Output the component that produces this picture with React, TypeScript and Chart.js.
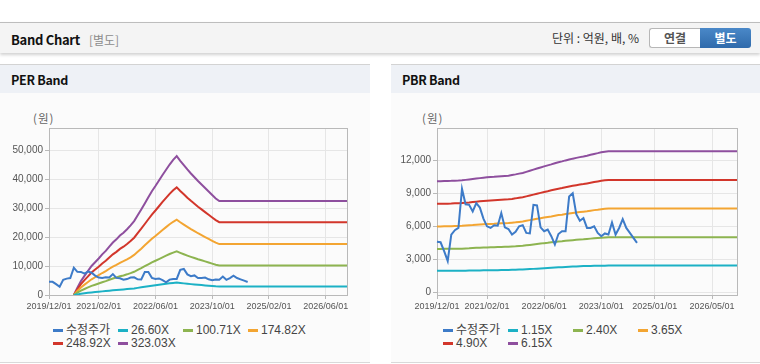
import React, { useEffect, useRef } from 'react';
import { Chart, registerables } from 'chart.js';

Chart.register(...registerables);

// ---------- categories (monthly, 2019/12 .. 2026/12) ----------
const MONTHS: string[] = [];
for (let i = 0; i < 85; i++) {
  const t = 2019 * 12 + 11 + i;
  const y = Math.floor(t / 12);
  const m = (t % 12) + 1;
  MONTHS.push(`${y}/${String(m).padStart(2, '0')}/01`);
}

const PER_TICK_LABELS = ['2019/12/01', '2021/02/01', '2022/06/01', '2023/10/01', '2025/02/01', '2026/06/01'];
const PBR_TICK_LABELS = ['2019/12/01', '2021/02/01', '2022/06/01', '2023/10/01', '2025/01/01', '2026/05/01'];

// ---------- adjusted price (수정주가) ----------
const PRICE = [
  4600, 4550, 3750, 2850, 5250, 5650, 5850, 9400, 8000, 7950,
  7350, 8100, 7700, 6700, 6000, 5850, 6100, 6050, 7200, 5900,
  5750, 5250, 5500, 6000, 6100, 5400, 5350, 7950, 7900, 5900,
  5550, 5700, 5100, 4350, 5300, 5550, 5550, 8700, 9000, 7100,
  6500, 6750, 5850, 5850, 6000, 5400, 5100, 5350, 5250, 6350,
  5250, 5850, 6650, 5850, 5400, 4950, 4500,
];

// ---------- PER bands ----------
const PER_LABELS = ['26.60X', '100.71X', '174.82X', '248.92X', '323.03X'];

const PER_26 = [
  null, null, null, null, null, null, null,
  0, 220, 430, 590, 740, 900, 1010, 1130, 1250, 1360, 1490, 1620, 1720, 1830, 1920, 2030, 2150, 2280, 2460, 2640, 2830, 3020, 3200, 3370, 3540, 3710, 3870, 4030, 4170, 4290,
  4140, 4010, 3880, 3750, 3630, 3520, 3410, 3300, 3200, 3090, 2980,
  2900, 2900, 2900, 2900, 2900, 2900, 2900, 2900, 2900, 2900,
  2900, 2900, 2900, 2900, 2900, 2900, 2900, 2900, 2900, 2900,
  2900, 2900, 2900, 2900, 2900, 2900, 2900, 2900, 2900, 2900,
  2900, 2900, 2900, 2900, 2900, 2900, 2900,
];
const PER_100 = [
  null, null, null, null, null, null, null,
  0, 790, 1510, 2070, 2610, 3140, 3550, 3960, 4400, 4770, 5240, 5680, 6030, 6440, 6750, 7130, 7540, 8010, 8640, 9260, 9920, 10580, 11240, 11810, 12400, 13000, 13560, 14130, 14630, 15040,
  14540, 14070, 13600, 13160, 12750, 12340, 11960, 11590, 11210, 10830, 10460,
  10170, 10170, 10170, 10170, 10170, 10170, 10170, 10170, 10170, 10170,
  10170, 10170, 10170, 10170, 10170, 10170, 10170, 10170, 10170, 10170,
  10170, 10170, 10170, 10170, 10170, 10170, 10170, 10170, 10170, 10170,
  10170, 10170, 10170, 10170, 10170, 10170, 10170,
];
const PER_174 = [
  null, null, null, null, null, null, null,
  0, 1360, 2600, 3580, 4500, 5420, 6120, 6830, 7590, 8240, 9050, 9810, 10410, 11110, 11650, 12300, 13010, 13820, 14910, 15990, 17130, 18270, 19400, 20380, 21410, 22440, 23410, 24390, 25260, 25960,
  25090, 24280, 23470, 22710, 22010, 21300, 20650, 20000, 19350, 18700, 18050,
  17560, 17560, 17560, 17560, 17560, 17560, 17560, 17560, 17560, 17560,
  17560, 17560, 17560, 17560, 17560, 17560, 17560, 17560, 17560, 17560,
  17560, 17560, 17560, 17560, 17560, 17560, 17560, 17560, 17560, 17560,
  17560, 17560, 17560, 17560, 17560, 17560, 17560,
];
const PER_248 = [
  null, null, null, null, null, null, null,
  0, 1940, 3720, 5120, 6430, 7750, 8760, 9770, 10850, 11780, 12940, 14030, 14880, 15890, 16660, 17590, 18600, 19760, 21310, 22860, 24490, 26120, 27750, 29140, 30610, 32090, 33480, 34880, 36120, 37120,
  35880, 34720, 33560, 32470, 31470, 30460, 29530, 28600, 27670, 26740, 25810,
  25110, 25110, 25110, 25110, 25110, 25110, 25110, 25110, 25110, 25110,
  25110, 25110, 25110, 25110, 25110, 25110, 25110, 25110, 25110, 25110,
  25110, 25110, 25110, 25110, 25110, 25110, 25110, 25110, 25110, 25110,
  25110, 25110, 25110, 25110, 25110, 25110, 25110,
];
const PER_323 = [
  null, null, null, null, null, null, null,
  0, 2500, 4800, 6600, 8300, 10000, 11300, 12600, 14000, 15200, 16700, 18100, 19200, 20500, 21500, 22700, 24000, 25500, 27500, 29500, 31600, 33700, 35800, 37600, 39500, 41400, 43200, 45000, 46600, 47900,
  46300, 44800, 43300, 41900, 40600, 39300, 38100, 36900, 35700, 34500, 33300,
  32400, 32400, 32400, 32400, 32400, 32400, 32400, 32400, 32400, 32400,
  32400, 32400, 32400, 32400, 32400, 32400, 32400, 32400, 32400, 32400,
  32400, 32400, 32400, 32400, 32400, 32400, 32400, 32400, 32400, 32400,
  32400, 32400, 32400, 32400, 32400, 32400, 32400,
];

// ---------- PBR bands ----------
const PBR_LABELS = ['1.15X', '2.40X', '3.65X', '4.90X', '6.15X'];

const PBR_115 = [
  1950, 1950, 1955, 1955, 1960, 1960, 1965, 1965, 1970, 1975,
  1980, 1985, 1990, 1995, 2000, 2005, 2010, 2015, 2020, 2025,
  2030, 2040, 2050, 2065, 2080, 2095, 2110, 2130, 2150, 2170,
  2190, 2210, 2230, 2250, 2270, 2285, 2300, 2320, 2335, 2350,
  2365, 2380, 2390, 2400, 2410, 2415, 2420, 2425,
  2430, 2430, 2430, 2430, 2430, 2430, 2430, 2430, 2430, 2430,
  2430, 2430, 2430, 2430, 2430, 2430, 2430, 2430, 2430, 2430,
  2430, 2430, 2430, 2430, 2430, 2430, 2430, 2430, 2430, 2430,
  2430, 2430, 2430, 2430, 2430, 2430, 2430,
];
const PBR_240 = [
  3940, 3940, 3950, 3950, 3950, 3960, 3960, 3970, 3990, 4000,
  4020, 4040, 4050, 4070, 4080, 4090, 4100, 4110, 4120, 4130,
  4140, 4160, 4180, 4210, 4230, 4270, 4310, 4350, 4390, 4430,
  4470, 4500, 4540, 4580, 4610, 4640, 4680, 4710, 4740, 4770,
  4800, 4820, 4850, 4880, 4910, 4940, 4970, 4990,
  5000, 5000, 5000, 5000, 5000, 5000, 5000, 5000, 5000, 5000,
  5000, 5000, 5000, 5000, 5000, 5000, 5000, 5000, 5000, 5000,
  5000, 5000, 5000, 5000, 5000, 5000, 5000, 5000, 5000, 5000,
  5000, 5000, 5000, 5000, 5000, 5000, 5000,
];
const PBR_365 = [
  5990, 5990, 6000, 6010, 6010, 6020, 6030, 6040, 6070, 6090,
  6110, 6140, 6160, 6180, 6200, 6220, 6230, 6250, 6270, 6280,
  6290, 6330, 6360, 6400, 6440, 6500, 6560, 6620, 6680, 6740,
  6800, 6850, 6900, 6960, 7020, 7060, 7120, 7160, 7210, 7250,
  7290, 7330, 7370, 7420, 7470, 7510, 7560, 7590,
  7610, 7610, 7610, 7610, 7610, 7610, 7610, 7610, 7610, 7610,
  7610, 7610, 7610, 7610, 7610, 7610, 7610, 7610, 7610, 7610,
  7610, 7610, 7610, 7610, 7610, 7610, 7610, 7610, 7610, 7610,
  7610, 7610, 7610, 7610, 7610, 7610, 7610,
];
const PBR_490 = [
  8040, 8050, 8060, 8060, 8070, 8090, 8100, 8110, 8140, 8170,
  8210, 8240, 8270, 8300, 8330, 8350, 8370, 8390, 8410, 8430,
  8450, 8490, 8540, 8600, 8640, 8720, 8800, 8880, 8960, 9040,
  9120, 9190, 9270, 9350, 9420, 9480, 9550, 9620, 9680, 9740,
  9790, 9840, 9900, 9960, 10020, 10080, 10140, 10180,
  10210, 10210, 10210, 10210, 10210, 10210, 10210, 10210, 10210, 10210,
  10210, 10210, 10210, 10210, 10210, 10210, 10210, 10210, 10210, 10210,
  10210, 10210, 10210, 10210, 10210, 10210, 10210, 10210, 10210, 10210,
  10210, 10210, 10210, 10210, 10210, 10210, 10210,
];
const PBR_615 = [
  10090, 10100, 10110, 10120, 10130, 10150, 10160, 10180, 10220, 10260,
  10300, 10340, 10380, 10420, 10450, 10480, 10500, 10530, 10560, 10580,
  10600, 10660, 10720, 10790, 10850, 10950, 11050, 11150, 11250, 11350,
  11450, 11540, 11630, 11730, 11820, 11900, 11990, 12070, 12150, 12220,
  12290, 12350, 12420, 12500, 12580, 12650, 12730, 12780,
  12820, 12820, 12820, 12820, 12820, 12820, 12820, 12820, 12820, 12820,
  12820, 12820, 12820, 12820, 12820, 12820, 12820, 12820, 12820, 12820,
  12820, 12820, 12820, 12820, 12820, 12820, 12820, 12820, 12820, 12820,
  12820, 12820, 12820, 12820, 12820, 12820, 12820,
];

const PRICE_LABEL = '수정주가';
const COLORS = ['#3d7bc8', '#1cb1c5', '#8db450', '#f3a532', '#d2362b', '#8e4f9e'];

const TICK_FONT = "'Liberation Sans', Arial, 'Noto Sans CJK KR', sans-serif";
const KR_FONT = "'Noto Sans CJK KR', 'Noto Sans', sans-serif";

type Series = { label: string; data: (number | null)[]; color: string };

const framePlugin = {
  id: 'frame',
  beforeDatasetsDraw(chart: any) {
    const { ctx, chartArea: a } = chart;
    ctx.save();
    ctx.strokeStyle = '#b9b9b9';
    ctx.lineWidth = 1;
    ctx.strokeRect(Math.round(a.left) + 0.5, Math.round(a.top) + 0.5, Math.round(a.right - a.left), Math.round(a.bottom - a.top));
    ctx.restore();
  },
};

function BandChart(props: {
  width: number;
  height: number;
  axisWidth: number;
  padRight: number;
  padTop: number;
  xHeight: number;
  yMin: number;
  yMax: number;
  yStep: number;
  tickLabels: string[];
  series: Series[];
}) {
  const ref = useRef<HTMLCanvasElement | null>(null);
  useEffect(() => {
    if (!ref.current) return;
    const show = new Set(props.tickLabels);
    const chart = new Chart(ref.current, {
      type: 'line',
      data: {
        labels: MONTHS,
        datasets: props.series.map((s) => ({
          label: s.label,
          data: s.data as any,
          borderColor: s.color,
          backgroundColor: s.color,
          borderWidth: 2,
          pointRadius: 0,
          tension: 0,
          fill: false,
          spanGaps: false,
        })),
      },
      options: {
        animation: false,
        responsive: false,
        events: [],
        layout: { padding: { left: 0, right: props.padRight, top: props.padTop, bottom: 0 } },
        plugins: { legend: { display: false }, tooltip: { enabled: false }, title: { display: false } },
        scales: {
          x: {
            type: 'category',
            offset: false,
            grid: { color: '#e6e6e6', tickLength: 4, tickColor: '#b9b9b9', lineWidth: 1 },
            border: { color: '#b9b9b9' },
            ticks: {
              autoSkip: false,
              maxRotation: 0,
              minRotation: 0,
              padding: 2,
              color: '#555',
              font: { size: 9, family: TICK_FONT },
            },
            afterBuildTicks: (scale: any) => {
              scale.ticks = scale.ticks.filter((t: any) => show.has(MONTHS[t.value]));
            },
            afterFit: (scale: any) => {
              scale.height = props.xHeight;
            },
          },
          y: {
            type: 'linear',
            bounds: 'data',
            min: props.yMin,
            max: props.yMax,
            grid: { color: '#e6e6e6', tickLength: 4, tickColor: '#b9b9b9', lineWidth: 1 },
            border: { color: '#b9b9b9' },
            ticks: {
              padding: 2,
              color: '#555',
              font: { size: 10, family: TICK_FONT },
              callback: (v: any) => (Number(v) + 0).toLocaleString('en-US'),
            },
            afterBuildTicks: (scale: any) => {
              const out: { value: number }[] = [];
              const start = Math.ceil(props.yMin / props.yStep) * props.yStep + 0;
              for (let v = start; v <= props.yMax; v += props.yStep) out.push({ value: v + 0 });
              scale.ticks = out;
            },
            afterFit: (scale: any) => {
              scale.width = props.axisWidth;
            },
          },
        },
      } as any,
      plugins: [framePlugin],
    });
    return () => chart.destroy();
  }, []);
  return <canvas ref={ref} width={props.width} height={props.height} style={{ display: 'block', width: props.width, height: props.height }} />;
}

function Legend(props: { left: number; items: { label: string; color: string }[] }) {
  return (
    <>
      {props.items.map((it, i) => {
        const col = i % 4;
        const row = Math.floor(i / 4);
        return (
          <div
            key={i}
            style={{
              position: 'absolute',
              left: props.left + col * 65,
              top: 323 + row * 13,
              height: 14,
              display: 'flex',
              alignItems: 'center',
              whiteSpace: 'nowrap',
            }}
          >
            <span style={{ display: 'inline-block', width: 10, height: 3, background: it.color, marginRight: 3 }} />
            <span style={{ fontSize: 12, lineHeight: '14px', color: '#444', fontFamily: TICK_FONT }}>{it.label}</span>
          </div>
        );
      })}
    </>
  );
}

function Panel(props: { left: number; width: number; title: string; children: React.ReactNode }) {
  return (
    <>
      <div
        style={{
          position: 'absolute',
          left: props.left,
          top: 64,
          width: props.width,
          height: 299,
          background: '#fbfbfb',
          borderTop: '1px solid #d3d3d3',
          borderBottom: '1px solid #d9d9d9',
          boxSizing: 'border-box',
        }}
      />
      <div style={{ position: 'absolute', left: props.left, top: 65, width: props.width, height: 28, background: '#eef1f6' }} />
      <div
        style={{
          position: 'absolute',
          left: props.left + 11,
          top: 70,
          height: 20,
          lineHeight: '20px',
          fontSize: 12.5,
          letterSpacing: '-0.3px',
          fontWeight: 700,
          color: '#111',
          fontFamily: KR_FONT,
        }}
      >
        {props.title}
      </div>
      {props.children}
    </>
  );
}

export default function App() {
  const perSeries: Series[] = [
    { label: PRICE_LABEL, data: PRICE, color: COLORS[0] },
    { label: PER_LABELS[0], data: PER_26, color: COLORS[1] },
    { label: PER_LABELS[1], data: PER_100, color: COLORS[2] },
    { label: PER_LABELS[2], data: PER_174, color: COLORS[3] },
    { label: PER_LABELS[3], data: PER_248, color: COLORS[4] },
    { label: PER_LABELS[4], data: PER_323, color: COLORS[5] },
  ];
  const pbrSeries: Series[] = [
    { label: PRICE_LABEL, data: PRICE, color: COLORS[0] },
    { label: PBR_LABELS[0], data: PBR_115, color: COLORS[1] },
    { label: PBR_LABELS[1], data: PBR_240, color: COLORS[2] },
    { label: PBR_LABELS[2], data: PBR_365, color: COLORS[3] },
    { label: PBR_LABELS[3], data: PBR_490, color: COLORS[4] },
    { label: PBR_LABELS[4], data: PBR_615, color: COLORS[5] },
  ];

  return (
    <div style={{ position: 'absolute', left: 0, top: 0, width: 760, height: 364, background: '#fff', overflow: 'hidden', fontFamily: KR_FONT }}>
      {/* header bar */}
      <div
        style={{
          position: 'absolute',
          left: 0,
          top: 22,
          width: 760,
          height: 31,
          background: '#f4f4f4',
          borderTop: '1px solid #bdbdbd',
          boxSizing: 'border-box',
          boxShadow: '0 2px 3px rgba(0,0,0,0.18)',
        }}
      />
      <div style={{ position: 'absolute', left: 11, top: 28, height: 20, lineHeight: '20px', whiteSpace: 'nowrap' }}>
        <span style={{ fontSize: 13, letterSpacing: '-0.3px', fontWeight: 700, color: '#111' }}>Band Chart</span>
        <span style={{ fontSize: 12, color: '#8c8c8c', marginLeft: 9 }}>[별도]</span>
      </div>
      <div style={{ position: 'absolute', left: 552, top: 28, height: 20, lineHeight: '20px', fontSize: 12, color: '#333', whiteSpace: 'nowrap' }}>
        단위 : 억원, 배, %
      </div>
      <div
        style={{
          position: 'absolute',
          left: 649,
          top: 28,
          width: 51,
          height: 20,
          boxSizing: 'border-box',
          border: '1px solid #b7b7b7',
          borderRight: 'none',
          borderRadius: '3px 0 0 3px',
          background: '#fff',
          color: '#555',
          fontSize: 12,
          fontWeight: 700,
          lineHeight: '18px',
          textAlign: 'center',
        }}
      >
        연결
      </div>
      <div
        style={{
          position: 'absolute',
          left: 700,
          top: 28,
          width: 51,
          height: 20,
          boxSizing: 'border-box',
          borderRadius: '0 3px 3px 0',
          background: 'linear-gradient(#4a88c8, #2f6aab)',
          color: '#fff',
          fontSize: 12,
          fontWeight: 700,
          lineHeight: '20px',
          textAlign: 'center',
        }}
      >
        별도
      </div>

      {/* PER panel */}
      <Panel left={0} width={370} title="PER Band">
        <div style={{ position: 'absolute', left: 33, top: 110, fontSize: 11.5, lineHeight: '16px', letterSpacing: '1px', color: '#666' }}>(원)</div>
        <div style={{ position: 'absolute', left: 0, top: 95 }}>
          <BandChart
            width={370}
            height={225}
            axisWidth={49}
            padRight={23}
            padTop={33}
            xHeight={25}
            yMin={0}
            yMax={57600}
            yStep={10000}
            tickLabels={PER_TICK_LABELS}
            series={perSeries}
          />
        </div>
        <Legend left={53} items={perSeries.map((s) => ({ label: s.label, color: s.color }))} />
      </Panel>

      {/* PBR panel */}
      <Panel left={391} width={369} title="PBR Band">
        <div style={{ position: 'absolute', left: 422, top: 110, fontSize: 11.5, lineHeight: '16px', letterSpacing: '1px', color: '#666' }}>(원)</div>
        <div style={{ position: 'absolute', left: 391, top: 95 }}>
          <BandChart
            width={369}
            height={225}
            axisWidth={46}
            padRight={23}
            padTop={33}
            xHeight={25}
            yMin={-245}
            yMax={14936}
            yStep={3000}
            tickLabels={PBR_TICK_LABELS}
            series={pbrSeries}
          />
        </div>
        <Legend left={443} items={pbrSeries.map((s) => ({ label: s.label, color: s.color }))} />
      </Panel>
    </div>
  );
}
